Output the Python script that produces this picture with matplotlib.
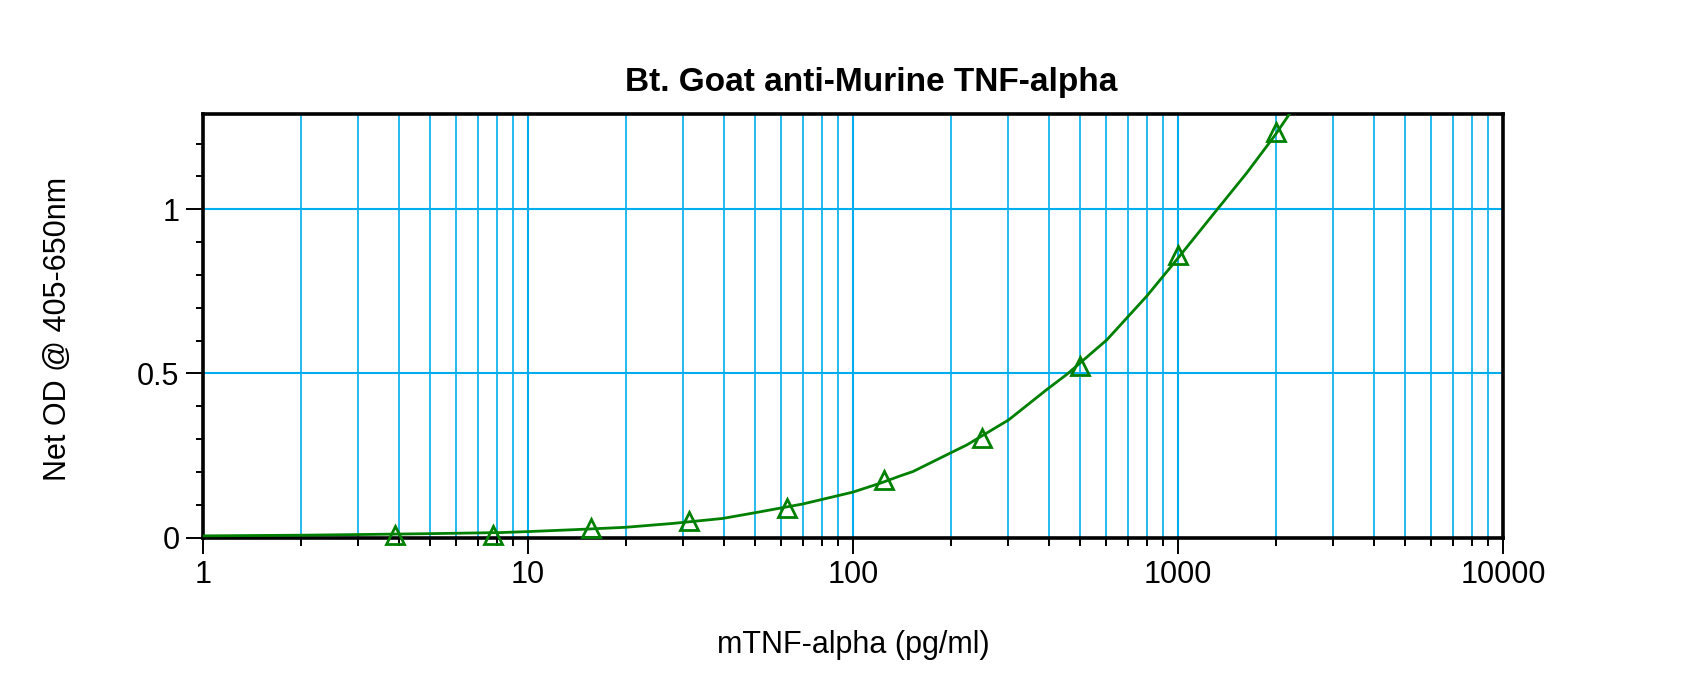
import numpy as np
import matplotlib
matplotlib.use('Agg')
import matplotlib.pyplot as plt
from matplotlib.ticker import FixedLocator, FixedFormatter, NullFormatter

# pontos medidos (padrões)
conc = [3.9, 7.8, 15.6, 31.25, 62.5, 125, 250, 500, 1000, 2000]
od = [0.007, 0.008, 0.030, 0.049, 0.091, 0.176, 0.303, 0.523, 0.862, 1.236]

# curva ajustada
curva_x = [1, 2, 3, 4.9, 8.2, 10, 14, 19.9, 28, 39.7, 50.3, 70, 99.7, 121, 139.6,
           153, 199, 224, 301, 394, 455, 604, 801, 1000, 1285, 1626, 1987, 2213]
curva_y = [0.005, 0.007, 0.009, 0.0116, 0.015, 0.018, 0.024, 0.031, 0.043, 0.058,
           0.076, 0.102, 0.138, 0.165, 0.1875, 0.201, 0.257, 0.282, 0.358, 0.450,
           0.497, 0.602, 0.735, 0.851, 0.985, 1.110, 1.225, 1.293]

titulo = 'Bt. Goat anti-Murine TNF-alpha'
rotulo_x = 'mTNF-alpha (pg/ml)'
rotulo_y = 'Net OD @ 405-650nm'
xticks = [1, 10, 100, 1000, 10000]
xtick_labels = ['1', '10', '100', '1000', '10000']
yticks = [0, 0.5, 1]
ytick_labels = ['0', '0.5', '1']

plt.rcParams['font.family'] = ['Liberation Sans', 'DejaVu Sans']

verde = '#008000'
azul = '#00AEEF'

fig = plt.figure(figsize=(17, 6.76), dpi=100)
ax = fig.add_axes([203/1700, 1 - 537.5/676, 1300/1700, (537.5 - 114)/676])

ax.set_xscale('log')
ax.set_xlim(1, 10000)
ax.set_ylim(0, 1.29)

# grade
minor_x = [m * 10**d for d in range(4) for m in range(2, 10)]
ax.xaxis.set_major_locator(FixedLocator(xticks))
ax.xaxis.set_major_formatter(FixedFormatter(xtick_labels))
ax.xaxis.set_minor_locator(FixedLocator(minor_x))
ax.xaxis.set_minor_formatter(NullFormatter())
ax.yaxis.set_major_locator(FixedLocator(yticks))
ax.yaxis.set_major_formatter(FixedFormatter(ytick_labels))
ax.yaxis.set_minor_locator(FixedLocator(np.arange(0.1, 1.3, 0.1)))

ax.grid(True, which='major', axis='both', color=azul, linewidth=1.5)
ax.grid(True, which='minor', axis='x', color=azul, linewidth=1.2)
ax.set_axisbelow(True)

ax.plot(curva_x, curva_y, color=verde, linewidth=2.0, zorder=3)
ax.plot(conc, od, linestyle='none', marker='^', markersize=13,
        markerfacecolor='none', markeredgecolor=verde, markeredgewidth=2.0,
        zorder=4, clip_on=False)

for s in ax.spines.values():
    s.set_linewidth(2.6)
    s.set_color('black')

ax.tick_params(axis='both', which='both', direction='out', colors='black',
               top=False, right=False, labelsize=22)
ax.tick_params(axis='x', which='major', length=11.5, width=1.4, pad=5)
ax.tick_params(axis='x', which='minor', length=6, width=1.4)
ax.tick_params(axis='y', which='major', length=12, width=1.4, pad=5)
ax.tick_params(axis='y', which='minor', length=5, width=1.4)

fig.text(871/1700, 1 - 90.5/676, titulo, ha='center', va='baseline',
         fontsize=24, fontweight='bold')
fig.text(853/1700, 1 - 645/676, rotulo_x, ha='center', va='center', fontsize=22)
fig.text(58/1700, 1 - 329/676, rotulo_y, ha='center', va='center',
         rotation=90, fontsize=22)

fig.savefig('out.png', dpi=100, facecolor='white')
